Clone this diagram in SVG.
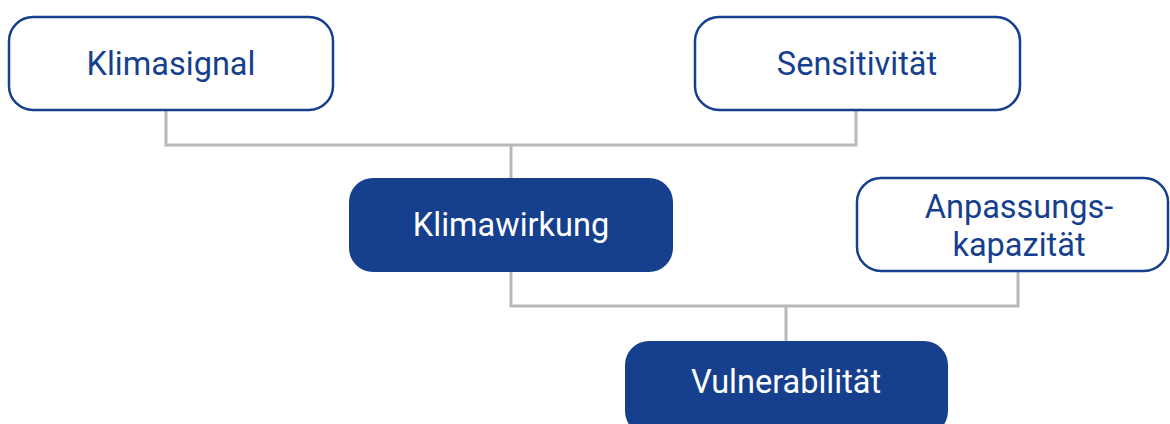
<svg xmlns="http://www.w3.org/2000/svg" width="1170" height="424" viewBox="0 0 1170 424">
<style>
.outline{fill:#ffffff;stroke:#163f8e;stroke-width:2.5}
.solid{fill:#163f8e;stroke:none}
.t{font-family:Roboto,"Liberation Sans",sans-serif;font-size:32.5px;text-anchor:middle}
.td{fill:#163f8e}
.tw{fill:#ffffff}
.conn{fill:none;stroke:#b9b9b9;stroke-width:3}
</style>
<rect width="1170" height="424" fill="#ffffff"/>
<g id="connectors">
<path class="conn" d="M166,111 V145 H856 V111"/>
<path class="conn" d="M511,145 V179"/>
<path class="conn" d="M511,272 V306 H1018 V271"/>
<path class="conn" d="M786,306 V342"/>
</g>
<g id="klimasignal">
<rect class="outline" x="9" y="17" width="324" height="93" rx="24"/>
<text class="t td" x="171" y="75">Klimasignal</text>
</g>
<g id="sensitivitaet">
<rect class="outline" x="695" y="17" width="325" height="93" rx="24"/>
<text class="t td" x="857" y="75">Sensitivität</text>
</g>
<g id="klimawirkung">
<rect class="solid" x="349" y="178" width="324" height="94" rx="24"/>
<text class="t tw" x="511" y="236">Klimawirkung</text>
</g>
<g id="anpassungskapazitaet">
<rect class="outline" x="857" y="178" width="311" height="93" rx="24"/>
<text class="t td" x="1019" y="218">Anpassungs-</text>
<text class="t td" x="1019" y="256">kapazität</text>
</g>
<g id="vulnerabilitaet">
<rect class="solid" x="625" y="341" width="323" height="94" rx="24"/>
<text class="t tw" x="786" y="393">Vulnerabilität</text>
</g>
</svg>
